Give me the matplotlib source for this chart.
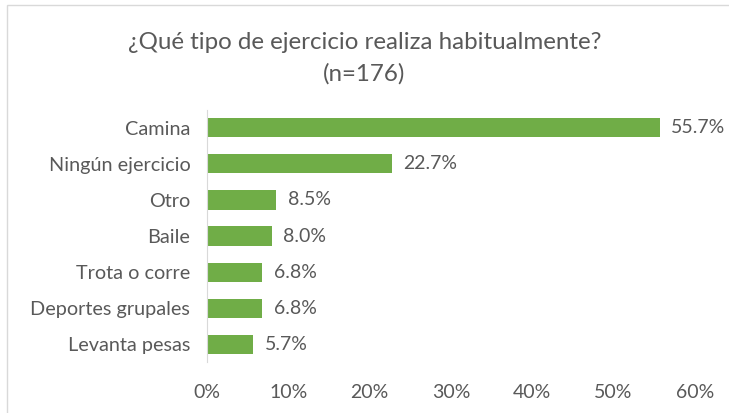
import matplotlib.pyplot as plt
from matplotlib.patches import Rectangle

plt.rcParams['font.family'] = ['Lato', 'DejaVu Sans']

categorias = ['Camina', 'Ningún ejercicio', 'Otro', 'Baile', 'Trota o corre',
              'Deportes grupales', 'Levanta pesas']
valores = [55.7, 22.7, 8.5, 8.0, 6.8, 6.8, 5.7]
ticks = [0, 10, 20, 30, 40, 50, 60]

gris = '#595959'
verde = '#70AD47'

fig = plt.figure(figsize=(7.29, 4.13), dpi=100)
ax = fig.add_axes([0.284, 0.123, 0.669, 0.611])

y = list(range(len(categorias)))
ax.barh(y, valores, height=0.53, color=verde)
ax.set_ylim(len(categorias) - 0.5, -0.5)
ax.set_xlim(0, 60)

for yi, v in zip(y, valores):
    ax.text(v + 1.4, yi, f'{v:.1f}%', va='center', ha='left', fontsize=14, color=gris)

ax.set_yticks(y)
ax.set_yticklabels(categorias, fontsize=14.3, color=gris)
ax.set_xticks(ticks)
ax.set_xticklabels([f'{t}%' for t in ticks], fontsize=14, color=gris)
ax.tick_params(axis='both', length=0)
ax.tick_params(axis='x', pad=16)
ax.tick_params(axis='y', pad=12)

for s in ['top', 'right', 'bottom']:
    ax.spines[s].set_visible(False)
ax.spines['left'].set_color('#D9D9D9')

fig.text(0.5, 0.897, '¿Qué tipo de ejercicio realiza habitualmente?', ha='center',
         va='center', fontsize=17.4, color=gris)
fig.text(0.5, 0.822, '(n=176)', ha='center', va='center', fontsize=17.4, color=gris)

fig.patches.append(Rectangle((0.0096, -0.02), 1.0, 1.008, transform=fig.transFigure,
                             fill=False, edgecolor='#D9D9D9', linewidth=1))

fig.savefig('out.png', dpi=100)
